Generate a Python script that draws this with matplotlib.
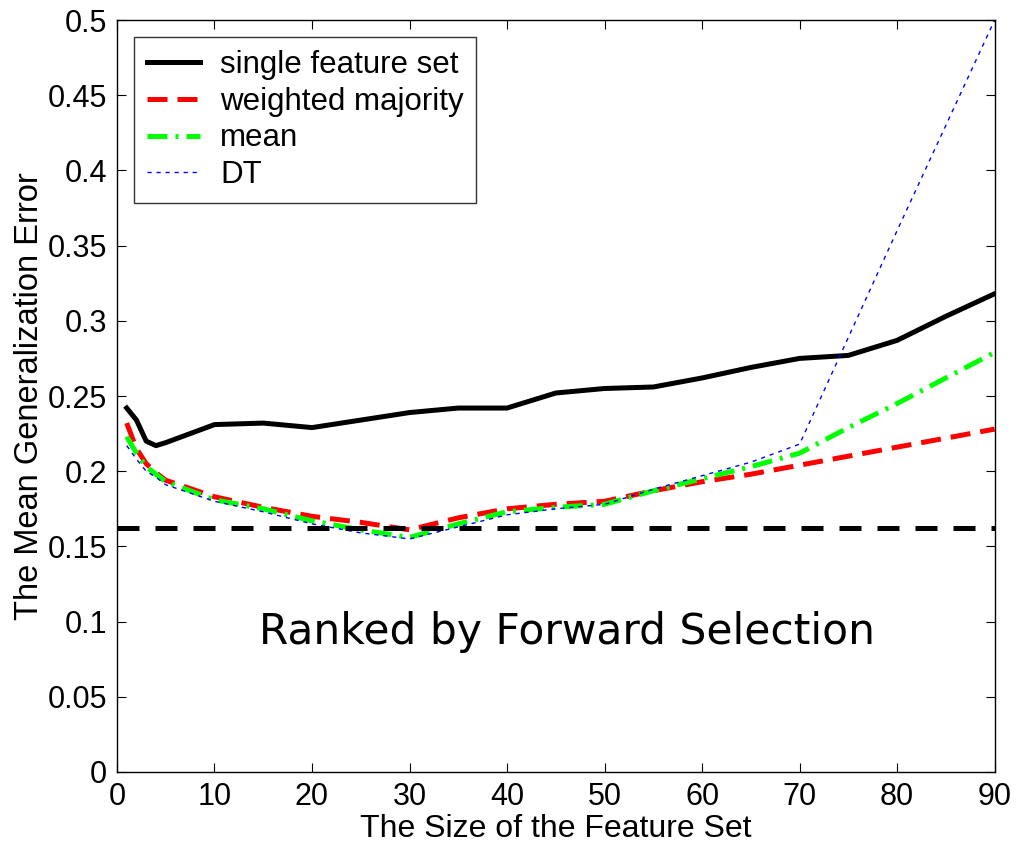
import matplotlib

matplotlib.use("Agg")
import matplotlib.pyplot as plt

plt.rcParams["font.family"] = ["Liberation Sans", "DejaVu Sans"]

sizes = [1, 2, 3, 4, 5, 10, 15, 20, 25, 30, 35, 40, 45, 50, 55, 60, 65, 70, 75, 80, 85, 90]
single_set = [0.242, 0.234, 0.220, 0.217, 0.219, 0.231, 0.232, 0.229, 0.234, 0.239, 0.242, 0.242,
              0.252, 0.255, 0.256, 0.262, 0.269, 0.275, 0.277, 0.287, 0.303, 0.318]
weighted_majority = [0.232, 0.215, 0.205, 0.199, 0.194, 0.183, 0.176, 0.170, 0.166, 0.161, 0.169, 0.175,
                     0.178, 0.180, 0.187, 0.193, 0.198, 0.204, 0.210, 0.216, 0.222, 0.228]
mean_vals = [0.223, 0.212, 0.203, 0.198, 0.193, 0.181, 0.175, 0.167, 0.161, 0.156, 0.165, 0.173,
             0.176, 0.178, 0.187, 0.195, 0.203, 0.212, 0.229, 0.245, 0.262, 0.279]
dt_vals = [0.217, 0.208, 0.200, 0.196, 0.191, 0.180, 0.173, 0.165, 0.159, 0.155, 0.163, 0.171,
           0.175, 0.178, 0.188, 0.197, 0.206, 0.218, 0.289, 0.360, 0.430, 0.500]
baseline = 0.162

yticks = [0, 0.05, 0.1, 0.15, 0.2, 0.25, 0.3, 0.35, 0.4, 0.45, 0.5]
ytick_labels = ["0", "0.05", "0.1", "0.15", "0.2", "0.25", "0.3", "0.35", "0.4", "0.45", "0.5"]
xticks = [0, 10, 20, 30, 40, 50, 60, 70, 80, 90]

fig = plt.figure(figsize=(10.17, 8.49), dpi=100)
ax = fig.add_axes([0.115, 0.0907, 0.863, 0.8857])

ax.plot(sizes, single_set, color="black", lw=3.6, solid_joinstyle="round", label="single feature set")
ax.plot(sizes, weighted_majority, color="#FF0000", lw=3.6, linestyle=(0, (4, 2)), label="weighted majority")
ax.plot(sizes, mean_vals, color="#00FF00", lw=3.6, linestyle=(0, (4, 1.6, 0.6, 1.6)), label="mean")
ax.plot(sizes, dt_vals, color="#0000FF", lw=1.0, linestyle=(0, (3, 3.5)), label="DT")
ax.axhline(baseline, color="black", lw=3.6, linestyle=(0, (4.4, 3.2)))

ax.text(46.2, 0.093, "Ranked by Forward Selection", ha="center", va="center",
        fontsize=30.5, family="DejaVu Sans")

ax.set_xlim(0, 90)
ax.set_ylim(0, 0.5)
ax.set_xticks(xticks)
ax.set_yticks(yticks)
ax.set_yticklabels(ytick_labels)
ax.tick_params(direction="in", top=True, right=True, length=6.5, width=0.8, labelsize=22, pad=7)
for s in ax.spines.values():
    s.set_linewidth(1.0)

ax.set_xlabel("The Size of the Feature Set", fontsize=23, labelpad=2)
ax.set_ylabel("The Mean Generalization Error", fontsize=23.5, labelpad=2)

leg = ax.legend(loc="upper left", fontsize=22.5, frameon=True, fancybox=False, handlelength=1.7,
                borderaxespad=0.55, labelspacing=0.22, handletextpad=0.65, borderpad=0.4)
leg.get_frame().set_edgecolor("black")
leg.get_frame().set_linewidth(1.0)

fig.savefig("out.png", dpi=100)
